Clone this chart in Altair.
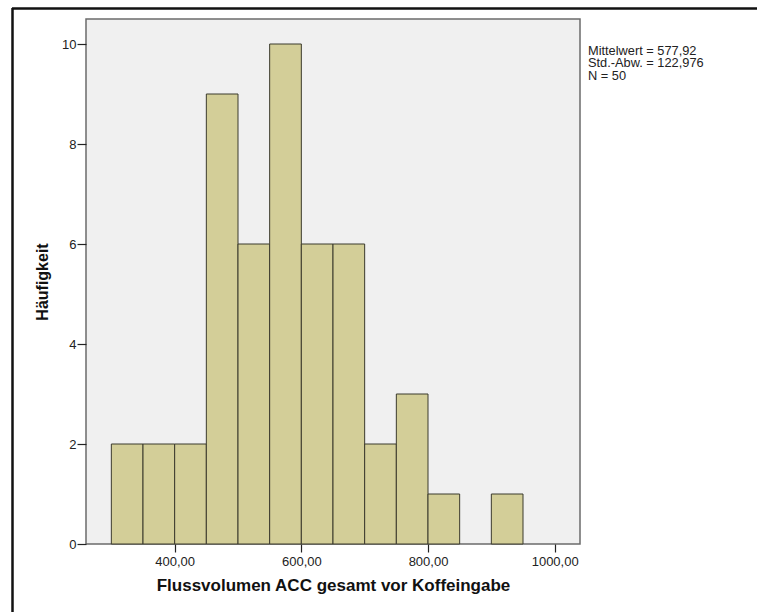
import altair as alt
import pandas as pd

# Histogram bins (lower/upper edge) and frequencies
bin_start = [300, 350, 400, 450, 500, 550, 600, 650, 700, 750, 800, 850, 900]
bin_end = [350, 400, 450, 500, 550, 600, 650, 700, 750, 800, 850, 900, 950]
counts = [2, 2, 2, 9, 6, 10, 6, 6, 2, 3, 1, 0, 1]

# Summary statistics shown next to the plot
stat_labels = ["Mittelwert = 577,92", "Std.-Abw. = 122,976", "N = 50"]

x_ticks = [400, 600, 800, 1000]
y_ticks = [0, 2, 4, 6, 8, 10]

bars_df = pd.DataFrame({"start": bin_start, "end": bin_end, "count": counts})
bars_df = bars_df[bars_df["count"] > 0]

W, H = 494, 525
PAD_L, PAD_T = 86, 19
FONT = "Liberation Sans"

x_scale = alt.Scale(domain=[260, 1040], nice=False, zero=False)
y_scale = alt.Scale(domain=[0, 10.5], nice=False)

bars = alt.Chart(bars_df).mark_rect(
    fill="#d3ce98", stroke="#3b3a2c", strokeWidth=1
).encode(
    x=alt.X("start:Q", scale=x_scale, axis=alt.Axis(
        values=x_ticks,
        labelExpr="replace(format(datum.value, '.2f'), '.', ',')",
        domain=False, grid=False, tickSize=8, tickColor="#222222", tickWidth=1.2,
        labelFont=FONT, labelFontSize=13, labelColor="#222222", labelPadding=3,
        title="Flussvolumen ACC gesamt vor Koffeingabe",
        titleFont=FONT, titleFontSize=17, titleFontWeight="bold", titleColor="#111111",
        titleX=W / 2, titleY=41, titleAlign="center", titleBaseline="middle",
    )),
    x2="end:Q",
    y=alt.Y("count:Q", scale=y_scale, axis=alt.Axis(
        values=y_ticks, format="d",
        domain=False, grid=False, tickSize=9, tickColor="#222222", tickWidth=1.2,
        labelFont=FONT, labelFontSize=13, labelColor="#222222", labelPadding=1,
        title="Häufigkeit",
        titleFont=FONT, titleFontSize=16, titleFontWeight="bold", titleColor="#111111",
        titleX=-44, titleY=H / 2, titleAngle=270, titleAlign="center", titleBaseline="middle",
    )),
    y2=alt.datum(0),
)

# Statistics block as one multi-line text
stats = alt.Chart(pd.DataFrame({"label": ["\n".join(stat_labels)]})).mark_text(
    align="left", baseline="alphabetic", font=FONT, fontSize=12.8, color="#222222",
    lineBreak="\n", lineHeight=12.2,
).encode(
    x=alt.value(502),
    y=alt.value(36.3),
    text="label:N",
)

# Outer figure border (top and left edges)
border_top = alt.Chart(pd.DataFrame({"k": [0]})).mark_rule(color="#111111", strokeWidth=2.5).encode(
    x=alt.value(-PAD_L + 12), x2=alt.value(757 - PAD_L), y=alt.value(-PAD_T + 8.5)
)
border_left = alt.Chart(pd.DataFrame({"k": [0]})).mark_rule(color="#111111", strokeWidth=2.5).encode(
    x=alt.value(-PAD_L + 12.5), y=alt.value(-PAD_T + 8), y2=alt.value(612 - PAD_T)
)

chart = alt.layer(bars, stats, border_top, border_left).properties(
    width=W, height=H,
    padding={"left": PAD_L, "top": PAD_T, "right": 757 - PAD_L - W, "bottom": 612 - PAD_T - H},
    autosize=alt.AutoSizeParams(type="none"),
    background="white",
).configure_view(
    fill="#f0f0f0", stroke="#6b6b6b", strokeWidth=1.5
)

chart.save("out.html", embed_options={"renderer": "svg", "actions": False})
